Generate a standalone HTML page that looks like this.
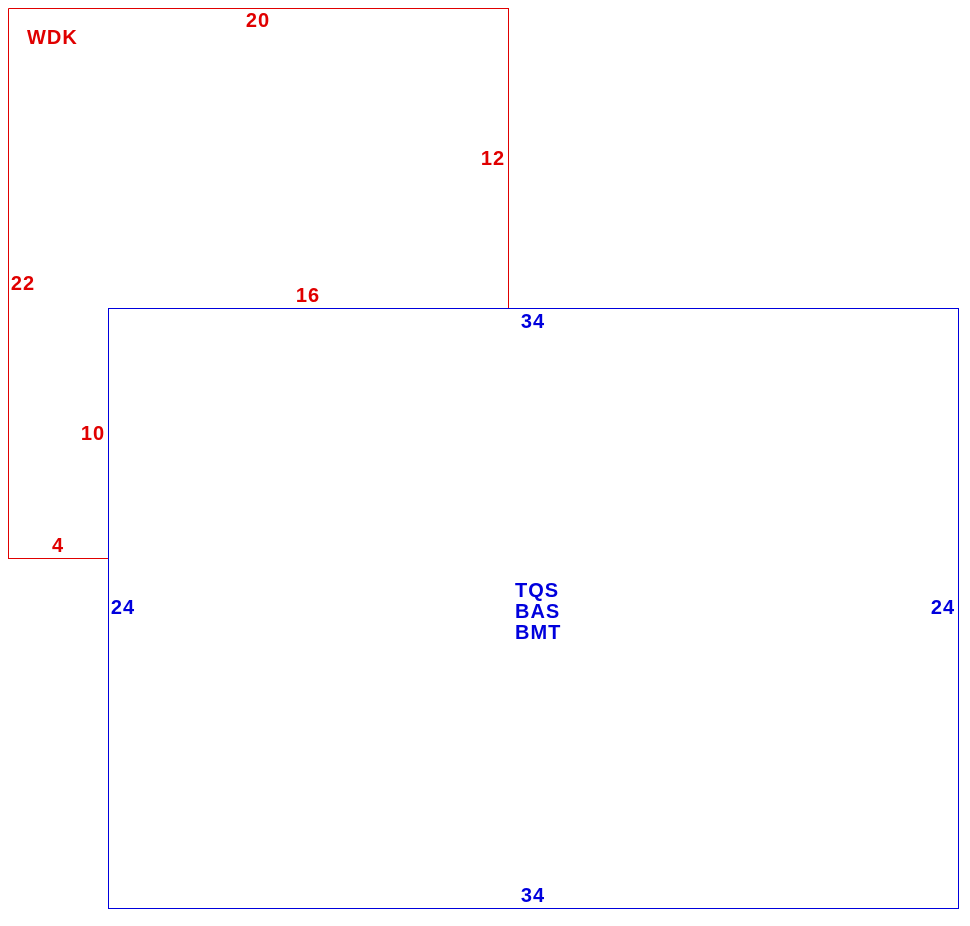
<!DOCTYPE html>
<html><head><style>body{margin:0;background:#fff}svg{display:block}</style></head>
<body>
<svg width="970" height="926" xmlns="http://www.w3.org/2000/svg" font-family="Liberation Sans, sans-serif" font-weight="bold" font-size="20" letter-spacing="1">
<polyline points="8.5,8.5 508.5,8.5 508.5,308.5 108.5,308.5 108.5,558.5 8.5,558.5 8.5,8.5" fill="none" stroke="#e00000" stroke-width="1"/>
<rect x="108.5" y="308.5" width="850" height="600" fill="none" stroke="#0000dd" stroke-width="1"/>
<g fill="#e00000">
<text x="27" y="44">WDK</text>
<text x="258" y="27" text-anchor="middle">20</text>
<text x="493" y="165" text-anchor="middle">12</text>
<text x="23" y="290" text-anchor="middle">22</text>
<text x="308" y="302" text-anchor="middle">16</text>
<text x="93" y="440" text-anchor="middle">10</text>
<text x="58" y="552" text-anchor="middle">4</text>
</g>
<g fill="#0000dd">
<text x="533" y="328" text-anchor="middle">34</text>
<text x="123" y="614" text-anchor="middle">24</text>
<text x="943" y="614" text-anchor="middle">24</text>
<text x="533" y="902" text-anchor="middle">34</text>
<text x="515" y="597">TQS</text>
<text x="515" y="618">BAS</text>
<text x="515" y="639">BMT</text>
</g>
</svg>
</body></html>
